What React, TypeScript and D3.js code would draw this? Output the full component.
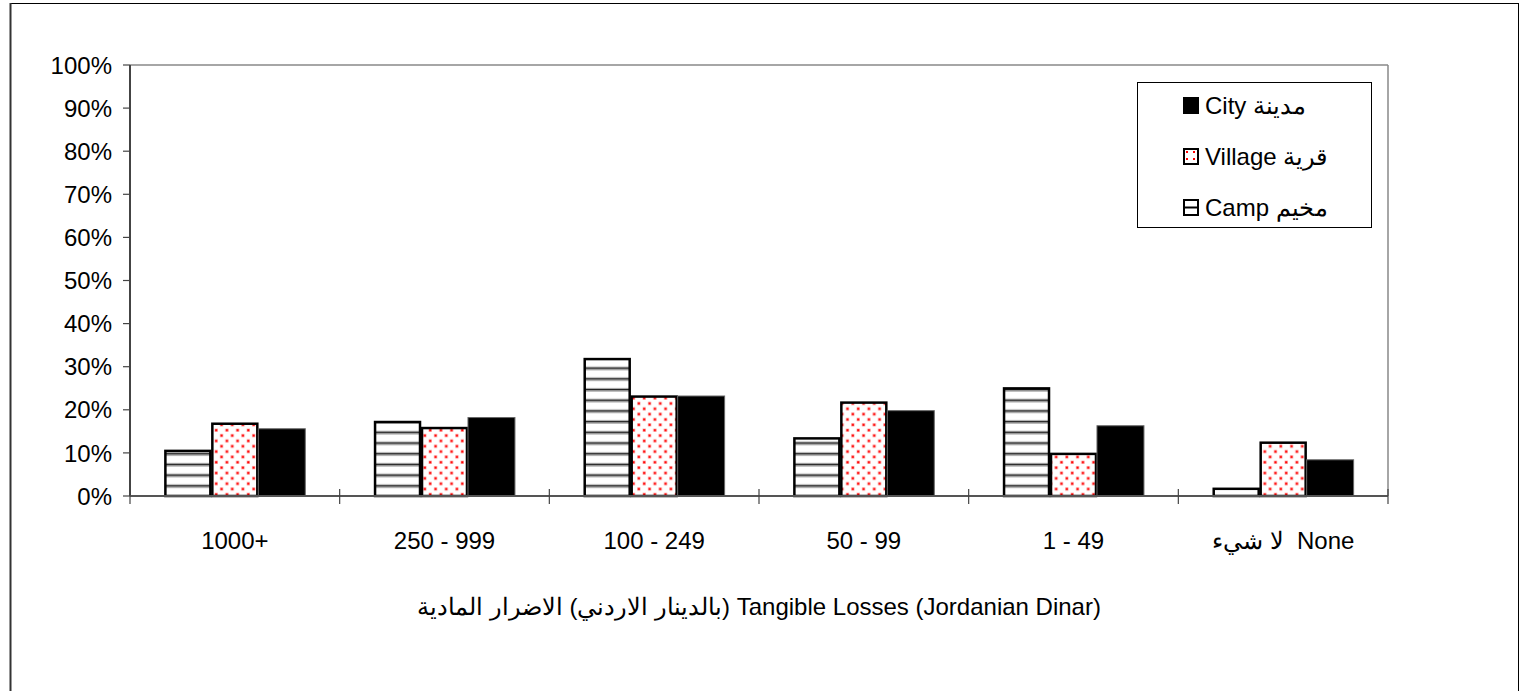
import React from "react";
import * as d3 from "d3";

const categories = ["1000+", "250 - 999", "100 - 249", "50 - 99", "1 - 49", "لا شيء  None"];
const seriesNames = ["Camp", "Village", "City"];
const seriesLabels = ["Camp مخيم", "Village قرية", "City مدينة"];
const campValues = [10.7, 17.4, 32.0, 13.6, 25.2, 1.9];
const villageValues = [17.0, 16.0, 23.3, 21.9, 10.0, 12.6];
const cityValues = [15.6, 18.2, 23.2, 19.8, 16.3, 8.4];
const yTicks = [0, 10, 20, 30, 40, 50, 60, 70, 80, 90, 100];
const axisTitle = "Tangible Losses (Jordanian Dinar) (بالدينار الاردني) الاضرار المادية";

const W = 1524;
const H = 691;
const L = 130, R = 1388, T = 65, B = 496;
const FONT = "'Liberation Sans', Arial, sans-serif";

export default function App() {
  const x = d3.scaleBand<string>().domain(categories).range([L, R]).paddingInner(0).paddingOuter(0);
  const groupFrac = 0.672;
  const inner = d3
    .scaleBand<string>()
    .domain(seriesNames)
    .range([0, x.bandwidth() * groupFrac]);
  const y = d3.scaleLinear().domain([0, 100]).range([B, T]);
  const values: Record<string, number[]> = { Camp: campValues, Village: villageValues, City: cityValues };
  const offset = (x.bandwidth() * (1 - groupFrac)) / 2;

  const fillFor = (s: string) => (s === "Camp" ? "url(#stripes)" : s === "Village" ? "url(#dots)" : "#000");

  const boundaries = d3.range(categories.length + 1).map((i) => L + i * x.bandwidth());

  const legendItems = ["City", "Village", "Camp"];
  const legendY = [105.5, 156.5, 207.5];

  return (
    <svg width={W} height={H} style={{ position: "absolute", left: 0, top: 0, background: "#fff" }} fontFamily={FONT}>
      <defs>
        <pattern id="stripes" patternUnits="userSpaceOnUse" width={10.7} height={10.7} y={B}>
          <rect width={10.7} height={10.7} fill="#fff" />
          <rect y={0} width={10.7} height={1.5} fill="#222" />
          <rect y={1.5} width={10.7} height={1.1} fill="#999" />
          <rect y={9.6} width={10.7} height={1.1} fill="#aaa" />
        </pattern>
        <pattern id="dots" patternUnits="userSpaceOnUse" width={10.7} height={10.7}>
          <rect width={10.7} height={10.7} fill="#fff" />
          <rect x={0.6} y={0.6} width={3.2} height={3.2} fill="#ff9a9a" />
          <rect x={1.2} y={1.2} width={2} height={2} fill="#ff0000" />
          <rect x={5.95} y={5.95} width={3.2} height={3.2} fill="#ff9a9a" />
          <rect x={6.55} y={6.55} width={2} height={2} fill="#ff0000" />
        </pattern>
        <pattern id="dotsLegend" patternUnits="userSpaceOnUse" width={7} height={7} x={1183} y={148}>
          <rect width={7} height={7} fill="#fff" />
          <rect x={3} y={3} width={2} height={2} fill="#ff0000" />
        </pattern>
      </defs>

      {/* outer frame */}
      <rect x={10.5} y={3.5} width={1508} height={700} fill="none" stroke="#000" strokeWidth={1} />
      <line x1={10.5} y1={3} x2={10.5} y2={H} stroke="#333" strokeWidth={2} />

      {/* plot area border (top/right) */}
      <line x1={L} y1={T} x2={R} y2={T} stroke="#888" strokeWidth={1.5} />
      <line x1={R} y1={T} x2={R} y2={B} stroke="#888" strokeWidth={1.5} />

      {/* bars */}
      {categories.map((c, ci) => (
        <g key={c}>
          {seriesNames.map((s) => {
            const v = values[s][ci];
            const bx = (x(c) as number) + offset + (inner(s) as number);
            const by = y(v);
            const bw = inner.bandwidth();
            const bh = B - by;
            return s === "City" ? (
              <rect key={s} x={bx} y={by} width={bw} height={bh} fill="#000" stroke="#666" strokeWidth={1} />
            ) : (
              <rect key={s} x={bx + 1} y={by + 1} width={bw - 2} height={bh - 1} fill={fillFor(s)} stroke="#000" strokeWidth={2.5} />
            );
          })}
        </g>
      ))}

      {/* y axis */}
      <line x1={L} y1={T} x2={L} y2={B} stroke="#444" strokeWidth={2} />
      {yTicks.map((t) => (
        <g key={t}>
          <line x1={L - 7} y1={y(t)} x2={L} y2={y(t)} stroke="#444" strokeWidth={1.2} />
          <text x={112} y={y(t)} dy="0.36em" textAnchor="end" fontSize={24} fill="#000">
            {t}%
          </text>
        </g>
      ))}

      {/* x axis */}
      <line x1={L} y1={B} x2={R} y2={B} stroke="#555" strokeWidth={2} />
      {boundaries.map((bx, i) => (
        <line key={i} x1={bx} y1={B - 7} x2={bx} y2={B + 8} stroke="#444" strokeWidth={1.2} />
      ))}
      {categories.map((c) => (
        <text key={c} x={(x(c) as number) + x.bandwidth() / 2} y={549} textAnchor="middle" fontSize={24} fill="#000" style={{ whiteSpace: "pre" }}>
          {c}
        </text>
      ))}

      {/* axis title */}
      <text x={(L + R) / 2} y={615} textAnchor="middle" fontSize={24} fill="#000" direction="rtl">
        {axisTitle}
      </text>

      {/* legend */}
      <rect x={1137.5} y={82.5} width={234} height={145} fill="#fff" stroke="#000" strokeWidth={1} />
      {legendItems.map((s, i) => {
        const cy = legendY[i];
        const label = seriesLabels[seriesNames.indexOf(s)];
        return (
          <g key={s}>
            {s === "City" && <rect x={1183} y={cy - 8.5} width={16} height={17} fill="#000" />}
            {s === "Village" && (
              <rect x={1184} y={cy - 7.5} width={14} height={15} fill="url(#dotsLegend)" stroke="#000" strokeWidth={2} />
            )}
            {s === "Camp" && (
              <g>
                <rect x={1184} y={cy - 7.5} width={14} height={15} fill="#fff" stroke="#000" strokeWidth={2} />
                <line x1={1184} y1={cy} x2={1198} y2={cy} stroke="#000" strokeWidth={2} />
              </g>
            )}
            <text x={1205} y={cy} dy="0.36em" fontSize={24} fill="#000">
              {label}
            </text>
          </g>
        );
      })}
    </svg>
  );
}
